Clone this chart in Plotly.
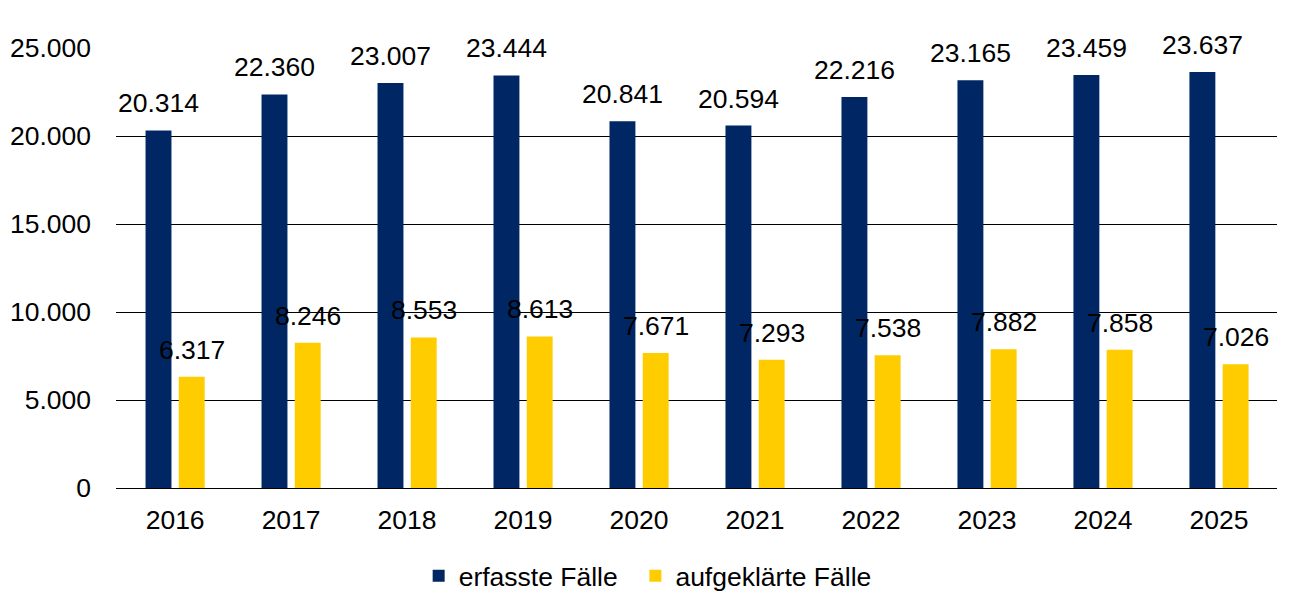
import plotly.graph_objects as go

years = ["2016", "2017", "2018", "2019", "2020", "2021", "2022", "2023", "2024", "2025"]
erfasste = [20314, 22360, 23007, 23444, 20841, 20594, 22216, 23165, 23459, 23637]
aufgeklaerte = [6317, 8246, 8553, 8613, 7671, 7293, 7538, 7882, 7858, 7026]
series_names = ["erfasste Fälle", "aufgeklärte Fälle"]
y_ticks = [0, 5000, 10000, 15000, 20000, 25000]

BLUE = "#002663"
YELLOW = "#FFCC00"
FONT = "Liberation Sans, Arial, sans-serif"
FS = 26.5
BARGAP = 0.427
BARGROUPGAP = 0.22


def de(v):
    return f"{v:,}".replace(",", ".")


fig = go.Figure()
fig.add_trace(go.Bar(x=years, y=erfasste, name=series_names[0] + "\u00a0\u2009",
                     marker=dict(color=BLUE, line=dict(width=0))))
fig.add_trace(go.Bar(x=years, y=aufgeklaerte, name=series_names[1],
                     marker=dict(color=YELLOW, line=dict(width=0))))

# value labels above bars, placed at each bar's centre via the category axis
off = (1 - BARGAP) / 4
for i, (a, b) in enumerate(zip(erfasste, aufgeklaerte)):
    for dx, v in ((-off, a), (off, b)):
        fig.add_annotation(x=i + dx, y=v, xref="x", yref="y", text=de(v), showarrow=False,
                           yanchor="bottom", yshift=10, font=dict(family=FONT, size=FS, color="black"))

fig.update_layout(
    width=1298, height=592,
    margin=dict(l=108, r=29, t=40, b=112, autoexpand=False),
    paper_bgcolor="white", plot_bgcolor="white",
    barmode="group", bargap=BARGAP, bargroupgap=BARGROUPGAP,
    separators=",.",
    font=dict(family=FONT, size=FS, color="black"),
    legend=dict(orientation="h", x=0.4928, xanchor="center", xref="container",
                y=0.0, yanchor="bottom", yref="container",
                font=dict(family=FONT, size=FS, color="black"), itemwidth=30, tracegroupgap=0),
    showlegend=True,
)
fig.update_xaxes(type="category", automargin=False, showgrid=False, showline=False, ticks="",
                 ticklabelstandoff=13, tickfont=dict(family=FONT, size=FS, color="black"))
fig.update_yaxes(range=[0, 25000], automargin=False, tickvals=y_ticks, tickformat=",d", showgrid=True,
                 gridcolor="black", gridwidth=1.3, zeroline=True, zerolinecolor="black", zerolinewidth=1.3,
                 showline=False, ticks="", ticklabelstandoff=24,
                 tickfont=dict(family=FONT, size=FS, color="black"))

fig.write_html("out.html")
